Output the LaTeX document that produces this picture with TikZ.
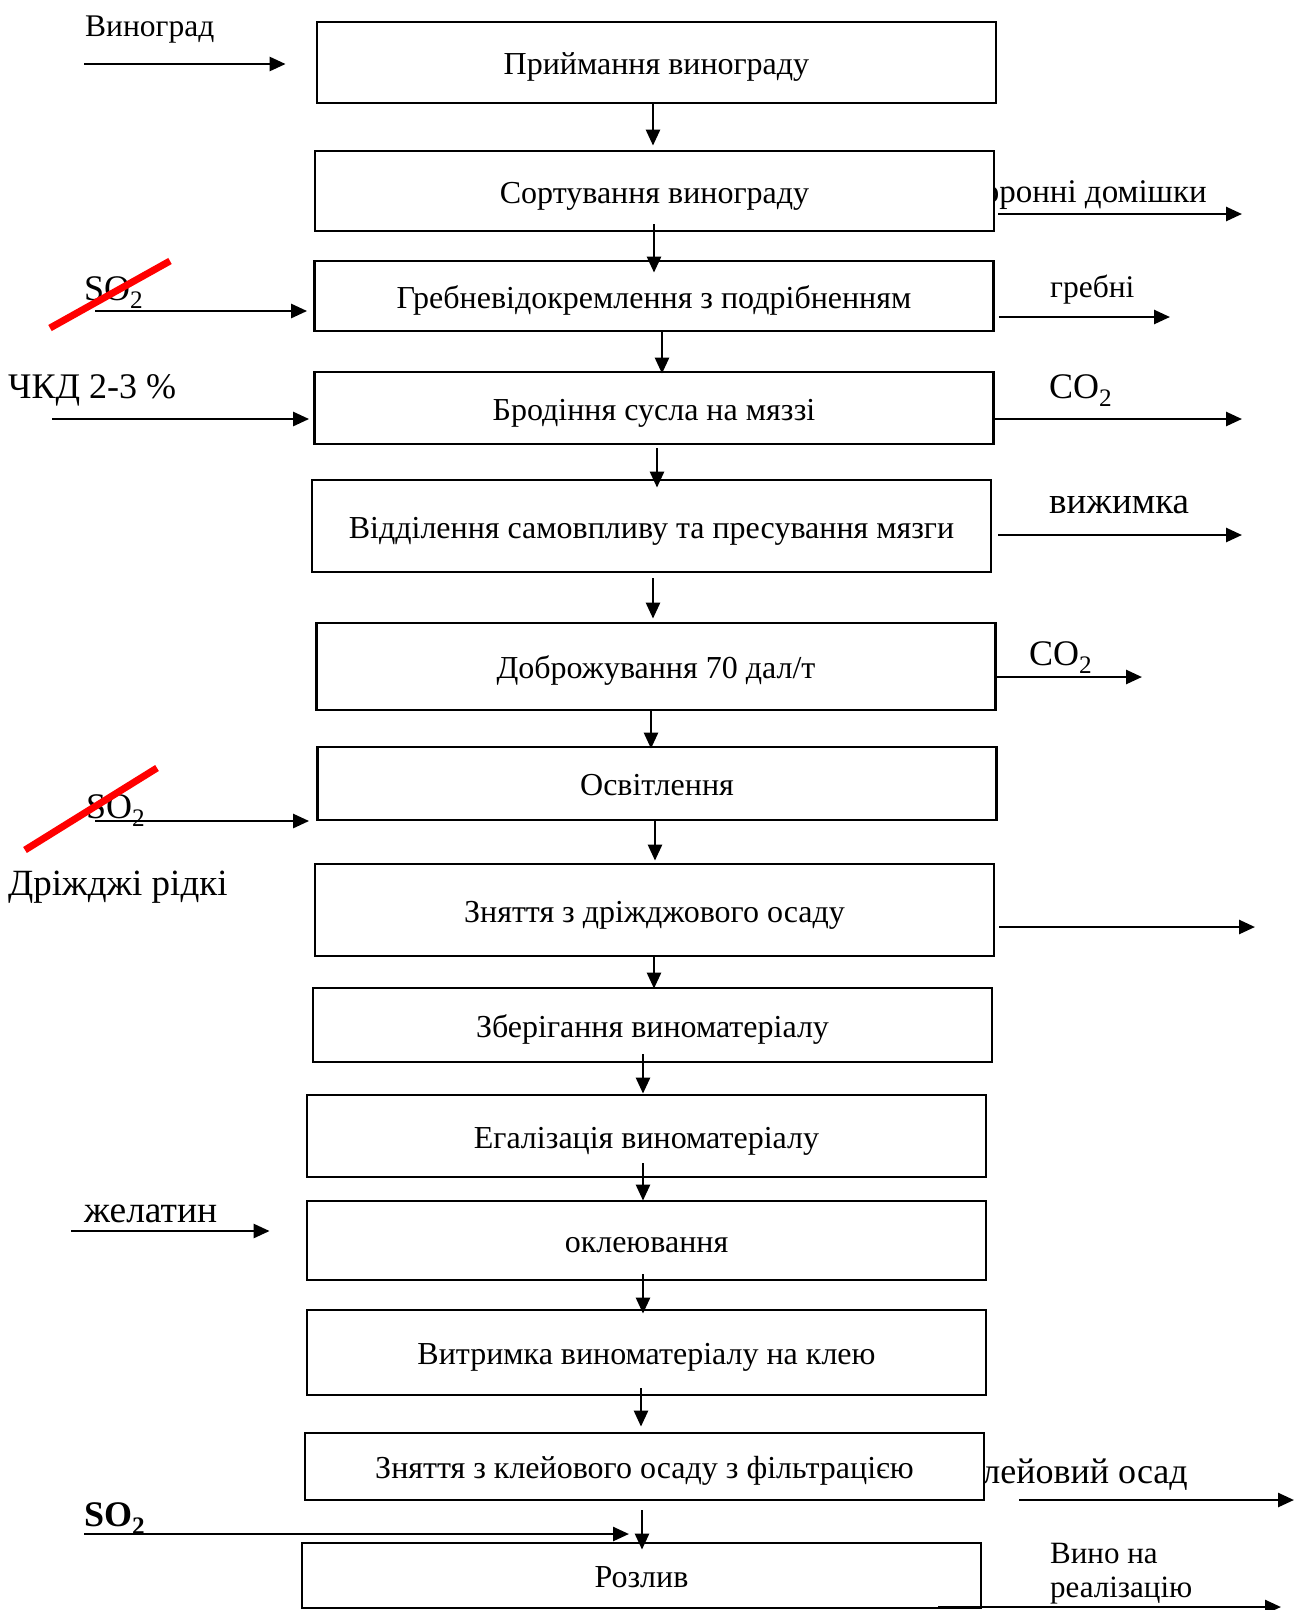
\documentclass[tikz,border=0pt]{standalone}
\usepackage{fontspec}
\setmainfont{Liberation Serif}
\usetikzlibrary{arrows.meta}
\begin{document}
\begin{tikzpicture}[x=1pt,y=-1pt,
  box/.style={draw,line width=2.8pt,fill=white,minimum width=679pt,inner sep=0pt,text height=24pt,text depth=0pt,font=\fontsize{32}{36}\selectfont},
  arr/.style={line width=2.6pt,-{Triangle[length=16pt,width=14pt]}},
  lbl/.style={inner sep=0pt,anchor=base west,font=\fontsize{31.5}{36}\selectfont},
  lblr/.style={inner sep=0pt,anchor=base east,font=\fontsize{33}{36}\selectfont},
  big/.style={font=\fontsize{36}{40}\selectfont},
  cross/.style={red,line width=7pt}]
\useasboundingbox (0,0) rectangle (1294,1610);
% labels partly hidden behind boxes
\node[lblr] (t2) at (1207,202) {Сторонні домішки};
\node[lblr,font=\fontsize{36}{40}\selectfont] (t13) at (1188,1483) {Клейовий осад};
% boxes
\node[box,minimum height=81pt] (b1) at (656.5,62.5) {Приймання винограду};
\node[box,minimum height=80pt] (b2) at (654.5,191) {Сортування винограду};
\node[box,minimum height=70pt] (b3) at (654,296) {Гребневідокремлення з подрібненням};
\node[box,minimum height=72pt] (b4) at (654,408) {Бродіння сусла на мяззі};
\node[box,minimum height=92pt] (b5) at (651.5,526) {Відділення самовпливу та пресування мязги};
\node[box,minimum height=87pt] (b6) at (656,666.5) {Доброжування 70 дал/т};
\node[box,minimum height=73pt] (b7) at (657,783.5) {Освітлення};
\node[box,minimum height=92pt] (b8) at (654.5,910) {Зняття з дріжджового осаду};
\node[box,minimum height=74pt] (b9) at (652.5,1025) {Зберігання виноматеріалу};
\node[box,minimum height=82pt] (b10) at (646.5,1136) {Егалізація виноматеріалу};
\node[box,minimum height=79pt] (b11) at (646.5,1240.5) {оклеювання};
\node[box,minimum height=85pt] (b12) at (646.5,1352.5) {Витримка виноматеріалу на клею};
\node[box,minimum height=67pt] (b13) at (644.5,1466.5) {Зняття з клейового осаду з фільтрацією};
\node[box,minimum height=65pt] (b14) at (641.5,1575.5) {Розлив};
% vertical arrows
\draw[arr,shorten <=-1pt,shorten >=4pt] ([xshift=-3.5pt]b1.south) -- ([xshift=-1.5pt]b2.north);
\draw[arr,shorten <=-8pt,shorten >=-13pt] ([xshift=-0.5pt]b2.south) -- (b3.north);
\draw[arr,shorten <=-1pt,shorten >=-3pt] ([xshift=8pt]b3.south) -- ([xshift=8pt]b4.north);
\draw[arr,shorten <=3pt,shorten >=-9pt] ([xshift=3pt]b4.south) -- ([xshift=5.5pt]b5.north);
\draw[arr,shorten <=5pt,shorten >=3pt] ([xshift=1.5pt]b5.south) -- ([xshift=-3pt]b6.north);
\draw[arr,shorten <=-2pt,shorten >=-3pt] ([xshift=-5pt]b6.south) -- ([xshift=-6pt]b7.north);
\draw[arr,shorten >=2pt] ([xshift=-2pt]b7.south) -- ([xshift=0.5pt]b8.north);
\draw[arr,shorten >=-2pt] ([xshift=-0.5pt]b8.south) -- ([xshift=1.5pt]b9.north);
\draw[arr,shorten <=-9pt] ([xshift=-9.5pt]b9.south) -- ([xshift=-3.5pt]b10.north);
\draw[arr,shorten <=-15pt,shorten >=-1pt] ([xshift=-3.5pt]b10.south) -- ([xshift=-3.5pt]b11.north);
\draw[arr,shorten <=-7pt,shorten >=-5pt] ([xshift=-3.5pt]b11.south) -- ([xshift=-3.5pt]b12.north);
\draw[arr,shorten <=-8pt,shorten >=5pt] ([xshift=-5.5pt]b12.south) -- ([xshift=-3.5pt]b13.north);
\draw[arr,shorten <=9pt,shorten >=-8pt] ([xshift=-2.5pt]b13.south) -- ([xshift=0.5pt]b14.north);
% right side outputs
\coordinate (o2) at (1242,214);
\coordinate (o3) at (1170,317);
\coordinate (o4) at (1242,419);
\coordinate (o5) at (1242,535);
\coordinate (o6) at (1142,677);
\coordinate (o8) at (1255,927);
\coordinate (o13) at (1294,1500);
\coordinate (o14) at (1281,1607);
\draw[arr,shorten <=3pt] (b2.east |- o2) -- (o2);
\draw[arr,shorten <=4pt] (b3.east |- o3) -- (o3);
\draw[arr] (b4.east |- o4) -- (o4);
\draw[arr,shorten <=6pt] (b5.east |- o5) -- (o5);
\draw[arr] (b6.east |- o6) -- (o6);
\draw[arr,shorten <=4pt] (b8.east |- o8) -- (o8);
\draw[arr,shorten <=34pt] (b13.east |- o13) -- (o13);
\draw[arr,shorten <=-44pt] (b14.east |- o14) -- (o14);
\node[lbl] (t3) at (1050,297) {гребні};
\node[lbl,big] (t4) at (1049,398) {CO\textsubscript{2}};
\node[lbl,font=\fontsize{37}{40}\selectfont] (t5) at (1049,513) {вижимка};
\node[lbl,big] (t6) at (1029,665) {CO\textsubscript{2}};
\node[lbl,font=\fontsize{31}{36}\selectfont] (t14a) at (1050,1563) {Вино на};
\node[lbl,font=\fontsize{31}{36}\selectfont] (t14b) at (1050,1597) {реалізацію};
% left side inputs
\coordinate (i1) at (84,64);
\coordinate (i3) at (95,311);
\coordinate (i4) at (52,419);
\coordinate (i7) at (95,821);
\coordinate (i11) at (71,1231);
\coordinate (i14) at (84,1534);
\coordinate (e14) at (629,1534);
\draw[arr,shorten >=30pt] (i1) -- (b1.west |- i1);
\draw[arr,shorten >=6pt] (i3) -- (b3.west |- i3);
\draw[arr,shorten >=4pt] (i4) -- (b4.west |- i4);
\draw[arr,shorten >=7pt] (i7) -- (b7.west |- i7);
\draw[arr,shorten >=36pt] (i11) -- (b11.west |- i11);
\draw[arr] (i14) -- (e14);
\node[lbl] (l1) at (85,36) {Виноград};
\node[lbl,big] (l3) at (84,300) {SO\textsubscript{2}};
\node[lbl,big] (l4) at (8,398) {ЧКД 2-3 \%};
\node[lbl,big] (l7) at (86,818) {SO\textsubscript{2}};
\node[lbl,font=\fontsize{37}{40}\selectfont] (l7b) at (8,895) {Дріжджі рідкі};
\node[lbl,font=\fontsize{37.5}{40}\selectfont] (l11) at (84,1222) {желатин};
\node[lbl,font=\bfseries\fontsize{36}{40}\selectfont] (l14) at (84,1526) {SO\textsubscript{2}};
% red strike-throughs
\draw[cross] (50,328) -- (170,261);
\draw[cross] (25,850) -- (157,768);
\end{tikzpicture}
\end{document}
